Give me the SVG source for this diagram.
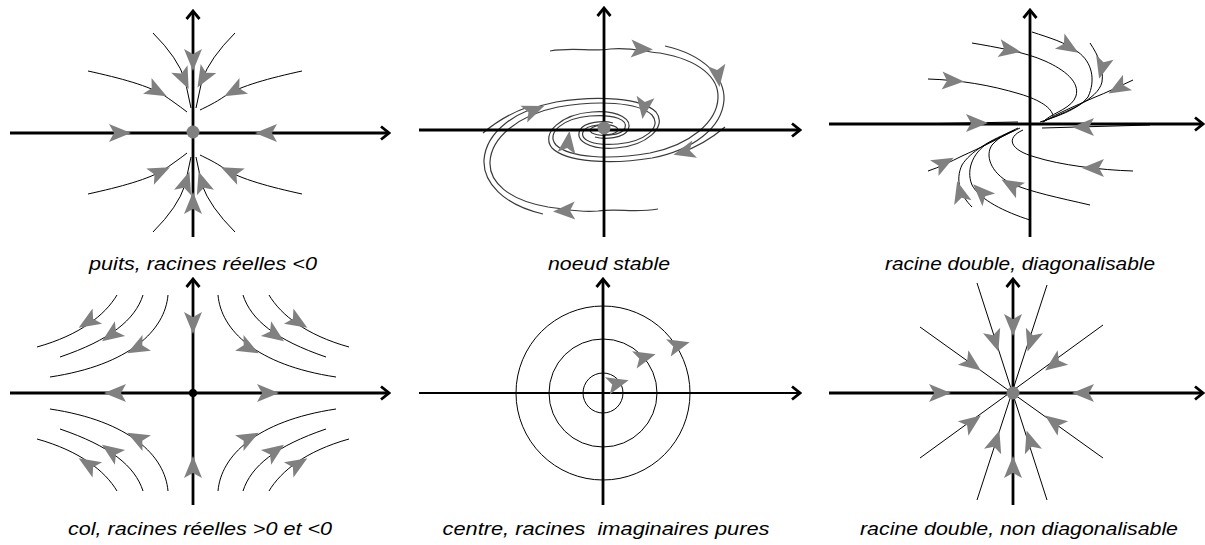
<svg xmlns="http://www.w3.org/2000/svg" xmlns:xlink="http://www.w3.org/1999/xlink" width="1205" height="545" viewBox="0 0 1205 545">
<style>
.ax{stroke:#000;stroke-width:2.8;fill:none;marker-end:url(#chev)}
.cv{stroke:#000;stroke-width:1;fill:none}
.sp{stroke:#3a3a3a;stroke-width:1.2;fill:none}
.dot{fill:#808080}
.lbl{font-family:"Liberation Sans",Arial,sans-serif;font-style:italic;font-size:18px;fill:#000;text-anchor:middle;white-space:pre}
</style>
<defs>
<marker id="chev" viewBox="-10 -8 12 16" markerWidth="12" markerHeight="16" refX="0" refY="0" orient="auto" markerUnits="userSpaceOnUse">
<path d="M-8,-6.5 L0,0 L-8,6.5" fill="none" stroke="#000" stroke-width="2.8"/>
</marker>
<path id="ah" d="M11,0 L-11,-9 L-6,0 L-11,9 Z" fill="#808080"/>
</defs>
<rect width="1205" height="545" fill="#fff"/>

<g id="panel1">
<path class="cv" d="M153,33 Q178,58 185,80 L191,108"/>
<path class="cv" d="M235,33 Q210,58 202,80 L196,108"/>
<path class="cv" d="M88,71 C120,78 150,86 165,96 C175,103 182,108 187,112"/>
<path class="cv" d="M302,71 C270,78 240,86 225,96 C215,103 206,107 200,110"/>
<path class="cv" d="M153,232 Q178,207 185,185 L191,157"/>
<path class="cv" d="M235,232 Q210,207 202,185 L196,157"/>
<path class="cv" d="M88,194 C120,187 150,179 165,169 C175,162 182,157 187,153"/>
<path class="cv" d="M302,194 C270,187 240,179 225,169 C215,162 206,158 200,155"/>
<line class="ax" x1="10" y1="133" x2="389" y2="133"/>
<line class="ax" x1="193" y1="237" x2="193" y2="11"/>
<circle class="dot" cx="193" cy="132" r="6.5"/>
<use href="#ah" transform="translate(193,60) rotate(90)"/>
<use href="#ah" transform="translate(184,79) rotate(65)"/>
<use href="#ah" transform="translate(203,78) rotate(120)"/>
<use href="#ah" transform="translate(157,91) rotate(28)"/>
<use href="#ah" transform="translate(234,91) rotate(152)"/>
<use href="#ah" transform="translate(120,133) rotate(0)"/>
<use href="#ah" transform="translate(266,133) rotate(180)"/>
<use href="#ah" transform="translate(160,172) rotate(-25)"/>
<use href="#ah" transform="translate(231,172) rotate(-155)"/>
<use href="#ah" transform="translate(186,182) rotate(-72)"/>
<use href="#ah" transform="translate(202,182) rotate(-108)"/>
<use href="#ah" transform="translate(193,203) rotate(-90)"/>
</g>

<g id="panel2">
<path class="sp" d="M550,51 C575,47 590,52 610,49 C630,47 640,51 660,53 C700,60 719,78 718,98 C717,122 690,145 650,153 C610,160 570,158 556,145 C545,132 565,118 590,116 C615,114 628,120 625,128 C622,136 600,137 592,133 C586,129 596,124 604,126"/>
<path class="sp" d="M665,46 C705,55 725,78 724,100 C722,128 693,150 652,158 C610,165 566,162 552,148 C540,133 562,114 592,112 C620,110 633,120 628,130 C624,138 605,140 595,137"/>
<path class="sp" d="M725,127 C712,138 700,146 680,153"/>
<path class="sp" d="M658,209 C633,213 618,208 598,211 C578,213 568,209 548,207 C508,200 489,182 490,162 C491,138 518,115 558,107 C598,100 638,102 652,115 C663,128 643,142 618,144 C593,146 580,140 583,132 C586,124 608,123 616,127 C622,131 612,136 604,134"/>
<path class="sp" d="M543,214 C503,205 483,182 484,160 C486,132 515,110 556,102 C598,95 642,98 656,112 C668,127 646,146 616,148 C588,150 575,140 580,130 C584,122 603,120 613,123"/>
<path class="sp" d="M483,133 C496,122 508,114 528,107"/>
<line class="ax" x1="419" y1="130" x2="800" y2="130"/>
<line class="ax" x1="604" y1="237" x2="604" y2="8"/>
<circle class="dot" cx="604" cy="128" r="6.5"/>
<use href="#ah" transform="translate(642,49) rotate(3)"/>
<use href="#ah" transform="translate(718,76) rotate(82)"/>
<use href="#ah" transform="translate(684,152) rotate(165)"/>
<use href="#ah" transform="translate(568,142) rotate(-82)"/>
<use href="#ah" transform="translate(564,211) rotate(178)"/>
<use href="#ah" transform="translate(534,110) rotate(-22)"/>
<use href="#ah" transform="translate(644,108) rotate(98)"/>
</g>

<g id="panel3">
<path class="cv" d="M1032,32 C1050,38 1065,42 1078,52 C1092,62 1096,80 1088,97 C1078,110 1055,117 1040,122"/>
<path class="cv" d="M1090,43 C1098,55 1104,68 1102,82 C1098,100 1065,112 1042,122"/>
<path class="cv" d="M1133,80 C1120,86 1108,92 1093,98 C1075,106 1058,113 1043,122"/>
<path class="cv" d="M972,43 C995,47 1025,52 1045,61 C1065,70 1080,82 1076,96 C1072,108 1055,112 1045,120"/>
<path class="cv" d="M928,79 C960,80 990,85 1020,94 C1040,100 1052,108 1053,116"/>
<path class="cv" d="M1030,220 C1005,212 980,200 972,185 C965,168 975,150 990,142 C1000,137 1012,132 1020,128"/>
<path class="cv" d="M972,207 C960,195 955,180 962,165 C970,152 990,140 1015,130"/>
<path class="cv" d="M928,171 C940,167 950,162 962,156 C980,148 1000,138 1015,130"/>
<path class="cv" d="M1090,205 C1060,198 1030,192 1010,183 C990,172 985,155 992,145 C1000,136 1010,132 1018,128"/>
<path class="cv" d="M1133,171 C1100,170 1060,165 1035,157 C1010,150 1005,138 1023,130"/>
<path class="cv" d="M910,124 L1018,122"/>
<path class="cv" d="M1042,128 L1150,125"/>
<line class="ax" x1="829" y1="124" x2="1203" y2="124"/>
<line class="ax" x1="1030" y1="237" x2="1030" y2="10"/>
<use href="#ah" transform="translate(1069,47) rotate(32)"/>
<use href="#ah" transform="translate(1102,68) rotate(105)"/>
<use href="#ah" transform="translate(1118,88) rotate(150)"/>
<use href="#ah" transform="translate(1010,50) rotate(10)"/>
<use href="#ah" transform="translate(953,81) rotate(3)"/>
<use href="#ah" transform="translate(977,123) rotate(0)"/>
<use href="#ah" transform="translate(1083,127) rotate(180)"/>
<use href="#ah" transform="translate(1011,185) rotate(-150)"/>
<use href="#ah" transform="translate(1093,168) rotate(180)"/>
<use href="#ah" transform="translate(944,163) rotate(-28)"/>
<use href="#ah" transform="translate(960,192) rotate(-105)"/>
<use href="#ah" transform="translate(981,192) rotate(-135)"/>
</g>

<g id="panel4">
<g id="p4q">
<path class="cv" d="M117,295 C105,315 80,335 37,347"/>
<path class="cv" d="M143,295 C135,320 110,340 60,357"/>
<path class="cv" d="M168,295 C165,330 130,365 50,377"/>
<use href="#ah" transform="translate(88,322) rotate(148)"/>
<use href="#ah" transform="translate(111,335) rotate(145)"/>
<use href="#ah" transform="translate(137,348) rotate(152)"/>
</g>
<use href="#p4q" transform="matrix(-1 0 0 1 386 0)"/>
<use href="#p4q" transform="matrix(1 0 0 -1 0 786)"/>
<use href="#p4q" transform="matrix(-1 0 0 -1 386 786)"/>
<line class="ax" x1="10" y1="393" x2="389" y2="393"/>
<line class="ax" x1="193" y1="505" x2="193" y2="279"/>
<circle cx="193" cy="393" r="4" fill="#000"/>
<use href="#ah" transform="translate(193,323) rotate(90)"/>
<use href="#ah" transform="translate(193,467) rotate(-90)"/>
<use href="#ah" transform="translate(115,393) rotate(180)"/>
<use href="#ah" transform="translate(268,393) rotate(0)"/>
</g>

<g id="panel5">
<circle class="cv" cx="603" cy="393" r="87"/>
<circle class="cv" cx="603" cy="393" r="54"/>
<circle class="cv" cx="603" cy="393" r="20"/>
<line class="ax" x1="419" y1="393" x2="800" y2="393" style="stroke-width:2"/>
<line class="ax" x1="603" y1="505" x2="603" y2="279"/>
<use href="#ah" transform="translate(679,345) rotate(-15)"/>
<use href="#ah" transform="translate(645,357) rotate(-15)"/>
<use href="#ah" transform="translate(618,383) rotate(-15)"/>
</g>

<g id="panel6">
<path class="cv" d="M977,283 L1047,500 M1047,285 L977,500 M920,327 L1103,458 M1103,325 L920,458"/>
<line class="ax" x1="829" y1="393" x2="1203" y2="393"/>
<line class="ax" x1="1013" y1="505" x2="1013" y2="279"/>
<circle class="dot" cx="1013" cy="393" r="6.5"/>
<use href="#ah" transform="translate(1013,325) rotate(90)"/>
<use href="#ah" transform="translate(1013,467) rotate(-90)"/>
<use href="#ah" transform="translate(940,393) rotate(0)"/>
<use href="#ah" transform="translate(1083,393) rotate(180)"/>
<use href="#ah" transform="translate(995,341) rotate(72)"/>
<use href="#ah" transform="translate(1031,341) rotate(108)"/>
<use href="#ah" transform="translate(996,441) rotate(-72)"/>
<use href="#ah" transform="translate(1030,441) rotate(-108)"/>
<use href="#ah" transform="translate(972,364) rotate(36)"/>
<use href="#ah" transform="translate(1054,364) rotate(144)"/>
<use href="#ah" transform="translate(972,422) rotate(-36)"/>
<use href="#ah" transform="translate(1054,422) rotate(-144)"/>
</g>

<g id="labels">
<text class="lbl" x="203" y="270" textLength="228" lengthAdjust="spacingAndGlyphs">puits, racines réelles &lt;0</text>
<text class="lbl" x="609" y="270" textLength="122" lengthAdjust="spacingAndGlyphs">noeud stable</text>
<text class="lbl" x="1020" y="270" textLength="270" lengthAdjust="spacingAndGlyphs">racine double, diagonalisable</text>
<text class="lbl" x="200" y="535" textLength="264" lengthAdjust="spacingAndGlyphs">col, racines réelles &gt;0 et &lt;0</text>
<text class="lbl" x="606" y="535" textLength="327" lengthAdjust="spacingAndGlyphs" xml:space="preserve">centre, racines  imaginaires pures</text>
<text class="lbl" x="1019" y="535" textLength="318" lengthAdjust="spacingAndGlyphs">racine double, non diagonalisable</text>
</g>
</svg>
